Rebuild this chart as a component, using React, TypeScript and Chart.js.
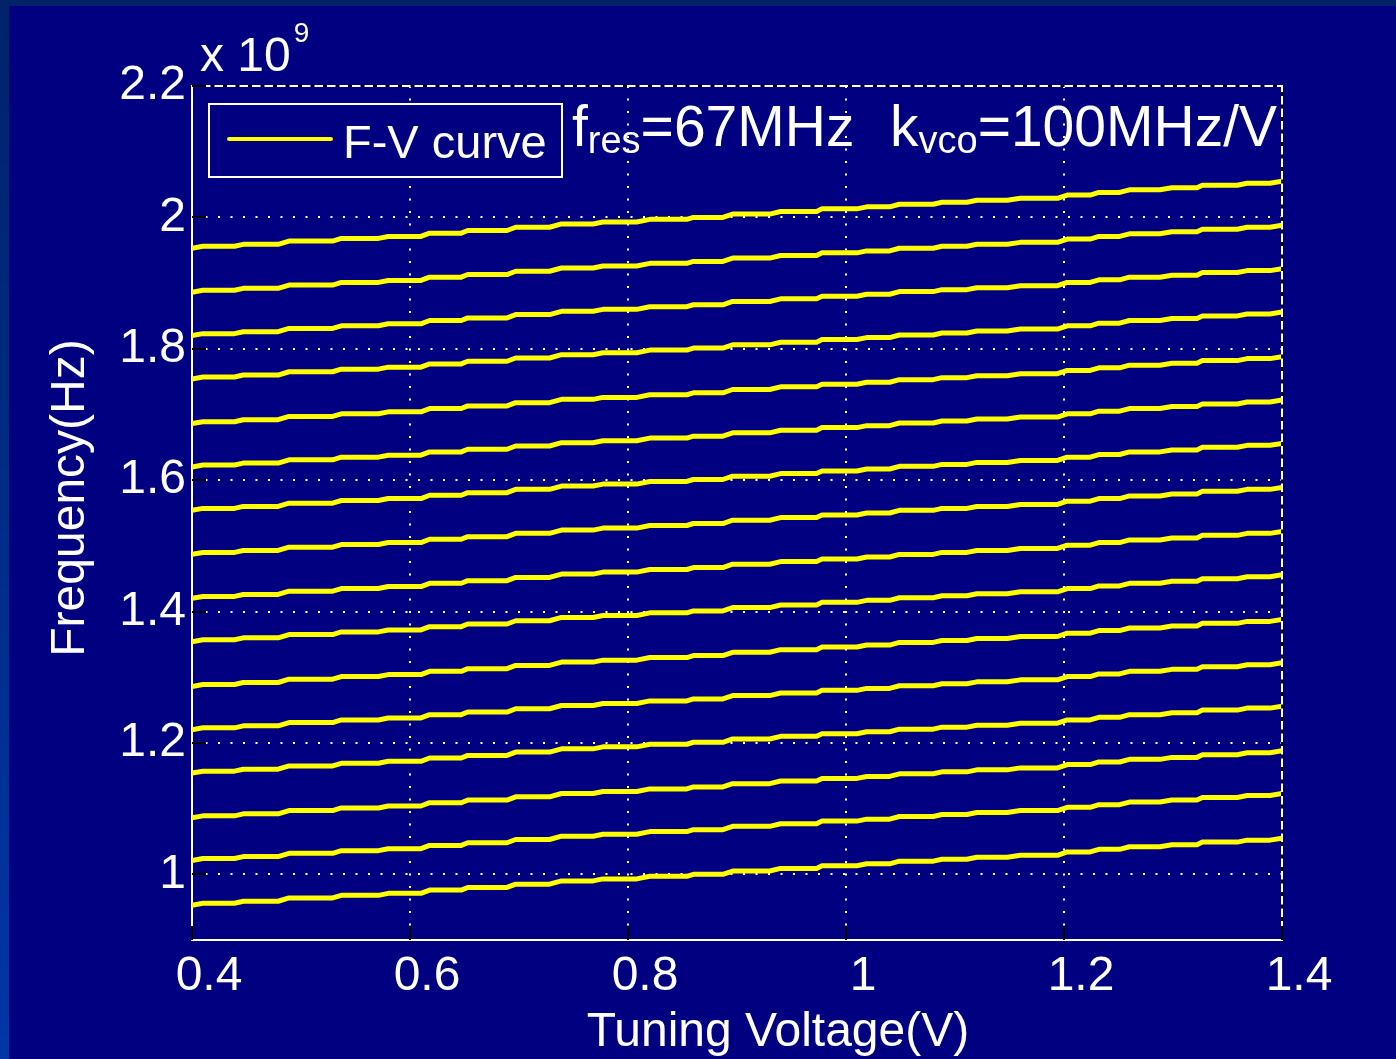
import React, { useEffect, useRef } from "react";
import { Chart, registerables } from "chart.js";

Chart.register(...registerables);

// ---- data ----
// frequency (x1e9 Hz) of each F-V curve at the left edge (0.4 V)
const curveStartGHz = [
  0.953, 1.021, 1.086, 1.154, 1.22, 1.286, 1.354, 1.42, 1.487, 1.554, 1.62,
  1.686, 1.754, 1.82, 1.886, 1.953,
];
// staircase shape of a curve: voltage where each small step starts / ends
const stepStartV = [
  0.4, 0.439, 0.479, 0.529, 0.571, 0.61, 0.647, 0.689, 0.728, 0.768, 0.808,
  0.854, 0.887, 0.93, 0.973, 1.01, 1.04, 1.08, 1.111, 1.148, 1.194, 1.224,
  1.251, 1.288, 1.322, 1.359, 1.389,
];
const stepEndV = [
  0.41, 0.447, 0.489, 0.537, 0.58, 0.618, 0.653, 0.697, 0.739, 0.777, 0.82,
  0.86, 0.896, 0.94, 0.978, 1.019, 1.049, 1.088, 1.12, 1.16, 1.203, 1.232,
  1.26, 1.299, 1.327, 1.368, 1.4,
];
// frequency rise (x1e9 Hz) above the start value on each level of the staircase
const stepLevelGHz = [
  0, 0.003, 0.006, 0.011, 0.015, 0.018, 0.023, 0.027, 0.032, 0.037, 0.04,
  0.044, 0.047, 0.052, 0.056, 0.06, 0.063, 0.067, 0.07, 0.073, 0.076, 0.081,
  0.085, 0.089, 0.092, 0.096, 0.099, 0.102,
];

const xTickValues = [0.4, 0.6, 0.8, 1.0, 1.2, 1.4];
const xTickLabels = ["0.4", "0.6", "0.8", "1", "1.2", "1.4"];
const yTickValues = [1.0, 1.2, 1.4, 1.6, 1.8, 2.0, 2.2];
const yTickLabels = ["1", "1.2", "1.4", "1.6", "1.8", "2", "2.2"];

const legendLabel = "F-V curve";
const xTitle = "Tuning Voltage(V)";
const yTitle = "Frequency(Hz)";
const exponentBase = "x 10";
const exponentPower = "9";
const noteParts = [
  { main: "f", sub: "res", rest: "=67MHz" },
  { main: "k", sub: "vco", rest: "=100MHz/V" },
];

const W = 1396;
const H = 1059;
const NAVY = "#000080";
const YELLOW = "#FFFF00";
const FONT = "'Liberation Sans', Arial, Helvetica, sans-serif";

function buildCurve(start: number) {
  const pts: { x: number; y: number }[] = [];
  for (let i = 0; i < stepStartV.length; i++) {
    pts.push({ x: stepStartV[i], y: start + stepLevelGHz[i] });
    pts.push({ x: stepEndV[i], y: start + stepLevelGHz[i + 1] });
  }
  return pts;
}

const decorPlugin = {
  id: "decor",
  beforeDraw(chart: any) {
    const ctx = chart.ctx as CanvasRenderingContext2D;
    ctx.save();
    const g = ctx.createLinearGradient(0, 0, 0, H);
    g.addColorStop(0, "#00236a");
    g.addColorStop(1, "#0036a8");
    ctx.fillStyle = g;
    ctx.fillRect(0, 0, W, H);
    ctx.fillStyle = NAVY;
    ctx.fillRect(9, 6, W - 9, H - 6);
    ctx.restore();
  },
  afterDraw(chart: any) {
    const ctx = chart.ctx as CanvasRenderingContext2D;
    const { left, right, top, bottom } = chart.chartArea;
    const xs = chart.scales.x;
    const ys = chart.scales.y;
    ctx.save();

    // top and right box lines
    ctx.strokeStyle = "#ffffff";
    ctx.lineWidth = 2;
    ctx.beginPath();
    ctx.moveTo(left, top);
    ctx.lineTo(right, top);
    ctx.lineTo(right, bottom);
    ctx.stroke();
    ctx.strokeStyle = "#000000";
    ctx.setLineDash([4, 8.5]);
    ctx.beginPath();
    ctx.moveTo(left + 6, top);
    ctx.lineTo(right, top);
    ctx.moveTo(right, top + 6);
    ctx.lineTo(right, bottom);
    ctx.stroke();
    ctx.setLineDash([]);

    // inward black ticks
    ctx.lineWidth = 2;
    ctx.beginPath();
    xTickValues.forEach((v) => {
      const px = Math.round(xs.getPixelForValue(v));
      ctx.moveTo(px, bottom);
      ctx.lineTo(px, bottom - 14);
    });
    yTickValues.forEach((v) => {
      const py = Math.round(ys.getPixelForValue(v));
      ctx.moveTo(left, py);
      ctx.lineTo(left + 14, py);
    });
    ctx.stroke();

    ctx.fillStyle = "#ffffff";
    // exponent label
    ctx.textAlign = "left";
    ctx.textBaseline = "alphabetic";
    ctx.font = `48px ${FONT}`;
    ctx.fillText(exponentBase, 200, 71);
    const bw = ctx.measureText(exponentBase).width;
    ctx.font = `28px ${FONT}`;
    ctx.fillText(exponentPower, 200 + bw + 3, 42);

    // axis titles
    ctx.font = `48px ${FONT}`;
    ctx.textAlign = "center";
    ctx.fillText(xTitle, 778, 1046);
    ctx.save();
    ctx.translate(84, 498);
    ctx.rotate(-Math.PI / 2);
    ctx.fillText(yTitle, 0, 0);
    ctx.restore();

    // legend box
    ctx.fillStyle = NAVY;
    ctx.fillRect(209, 104, 353, 73);
    ctx.strokeStyle = "#ffffff";
    ctx.lineWidth = 2;
    ctx.strokeRect(209, 104, 353, 73);
    ctx.strokeStyle = YELLOW;
    ctx.lineWidth = 4;
    ctx.lineCap = "round";
    ctx.beginPath();
    ctx.moveTo(229, 139);
    ctx.lineTo(331, 139);
    ctx.stroke();
    ctx.fillStyle = "#ffffff";
    ctx.textAlign = "left";
    ctx.font = `47px ${FONT}`;
    ctx.fillText(legendLabel, 343, 158);

    // annotation
    const starts = [572, 890];
    noteParts.forEach((p, i) => {
      let x = starts[i];
      ctx.font = `57px ${FONT}`;
      ctx.fillText(p.main, x, 146);
      x += ctx.measureText(p.main).width;
      ctx.font = `38px ${FONT}`;
      ctx.fillText(p.sub, x, 153);
      x += ctx.measureText(p.sub).width;
      ctx.font = `57px ${FONT}`;
      ctx.fillText(p.rest, x, 146);
    });

    ctx.restore();
  },
};

export default function App() {
  const ref = useRef<HTMLCanvasElement | null>(null);

  useEffect(() => {
    const canvas = ref.current;
    if (!canvas) return;
    const datasets = curveStartGHz.map((s, i) => ({
      label: i === 0 ? legendLabel : `${legendLabel} ${i + 1}`,
      data: buildCurve(s),
      borderColor: YELLOW,
      backgroundColor: YELLOW,
      borderWidth: 5,
      borderJoinStyle: "round" as const,
      borderCapStyle: "round" as const,
      pointRadius: 0,
      tension: 0,
      fill: false,
    }));
    const chart = new Chart(canvas, {
      type: "line",
      data: { datasets },
      options: {
        animation: false,
        responsive: false,
        devicePixelRatio: 1,
        layout: { padding: { top: 86, right: 114, left: 0, bottom: 0 } },
        plugins: {
          legend: { display: false },
          tooltip: { enabled: false },
        },
        scales: {
          x: {
            type: "linear",
            min: 0.4,
            max: 1.4,
            afterBuildTicks: (scale: any) => {
              scale.ticks = xTickValues.map((v) => ({ value: v }));
            },
            afterFit: (scale: any) => {
              scale.height = 119;
            },
            ticks: {
              color: "#ffffff",
              font: { family: FONT, size: 48 },
              padding: 8,
              labelOffset: 17,
              maxRotation: 0,
              autoSkip: false,
              callback: (_v: any, i: number) => xTickLabels[i],
            },
            grid: {
              color: "#ffffff",
              lineWidth: 2,
              drawTicks: false,
            },
            border: { color: "#ffffff", width: 2, dash: [2, 10.5] },
          },
          y: {
            type: "linear",
            min: 0.9,
            max: 2.2,
            afterBuildTicks: (scale: any) => {
              scale.ticks = yTickValues.map((v) => ({ value: v }));
            },
            afterFit: (scale: any) => {
              scale.width = 192;
            },
            ticks: {
              color: "#ffffff",
              font: { family: FONT, size: 48 },
              padding: 6,
              autoSkip: false,
              callback: (_v: any, i: number) => yTickLabels[i],
            },
            grid: {
              color: "#ffffff",
              lineWidth: 2,
              drawTicks: false,
            },
            border: { color: "#ffffff", width: 2, dash: [2, 10.5] },
          },
        },
      },
      plugins: [decorPlugin],
    });
    return () => chart.destroy();
  }, []);

  return (
    <div
      style={{
        position: "fixed",
        left: 0,
        top: 0,
        width: W,
        height: H,
        overflow: "hidden",
      }}
    >
      <canvas
        ref={ref}
        width={W}
        height={H}
        style={{ display: "block", width: W, height: H }}
      />
    </div>
  );
}
